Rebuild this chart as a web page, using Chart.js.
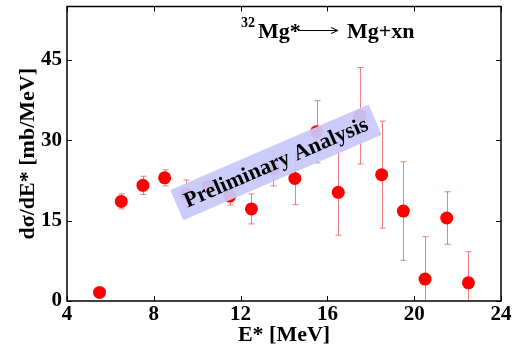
<!DOCTYPE html>
<html>
<head>
<meta charset="utf-8">
<script src="https://cdn.jsdelivr.net/npm/chart.js@4.4.1/dist/chart.umd.min.js"></script>
<style>
  html, body { margin: 0; padding: 0; background: #fff; }
  #wrap { width: 526px; height: 349px; position: relative; }
</style>
</head>
<body>
<div id="wrap"><canvas id="chart"></canvas></div>
<script>
// excitation energy E* [MeV]
var energy = [5.5, 6.5, 7.5, 8.5, 9.5, 10.5, 11.5, 12.5, 13.5, 14.5, 15.5, 16.5, 17.5, 18.5, 19.5, 20.5, 21.5, 22.5];
// dsigma/dE* [mb/MeV]
var xsec   = [1.6, 18.6, 21.6, 23.0, 20.0, 21.4, 19.6, 17.2, 24.7, 22.9, 31.6, 20.3, 34.6, 23.6, 16.8, 4.1, 15.5, 3.4];
var errs   = [0.0, 1.4, 1.7, 1.5, 2.6, 1.0, 1.7, 2.8, 3.2, 4.9, 5.8, 8.0, 9.0, 10.0, 9.2, 7.9, 4.9, 5.8];
var xTicks = [4, 8, 12, 16, 20, 24];
var yTicks = [0, 15, 30, 45];

var SERIF = '"Liberation Serif", "DejaVu Serif", serif';

var points = energy.map(function (e, i) { return { x: e, y: xsec[i] }; });

// error bars, drawn under the points
var errorBars = {
	id: 'errorBars',
	beforeDatasetsDraw: function (chart) {
		var ctx = chart.ctx, xs = chart.scales.x, ys = chart.scales.y;
		var area = chart.chartArea;
		ctx.save();
		ctx.beginPath();
		ctx.rect(area.left, area.top, area.right - area.left, area.bottom - area.top);
		ctx.clip();
		ctx.strokeStyle = 'rgba(240,110,110,0.9)';
		ctx.lineWidth = 1;
		for (var i = 0; i < energy.length; i++) {
			if (!errs[i]) continue;
			var px = Math.round(xs.getPixelForValue(energy[i])) + 0.5;
			var y1 = ys.getPixelForValue(xsec[i] + errs[i]);
			var y2 = ys.getPixelForValue(xsec[i] - errs[i]);
			ctx.beginPath();
			ctx.moveTo(px, y1); ctx.lineTo(px, y2);
			ctx.moveTo(px - 3, y1); ctx.lineTo(px + 3, y1);
			ctx.moveTo(px - 3, y2); ctx.lineTo(px + 3, y2);
			ctx.stroke();
		}
		ctx.restore();
	}
};

// frame with inward ticks on all four sides
var frame = {
	id: 'frame',
	afterDraw: function (chart) {
		var ctx = chart.ctx, a = chart.chartArea, xs = chart.scales.x, ys = chart.scales.y;
		ctx.save();
		ctx.strokeStyle = '#000';
		ctx.lineWidth = 1.5;
		ctx.strokeRect(a.left, a.top, a.right - a.left, a.bottom - a.top);
		ctx.lineWidth = 1;
		ctx.beginPath();
		xTicks.forEach(function (t) {
			var px = Math.round(xs.getPixelForValue(t)) + 0.5;
			ctx.moveTo(px, a.bottom); ctx.lineTo(px, a.bottom - 5);
			ctx.moveTo(px, a.top); ctx.lineTo(px, a.top + 5);
		});
		yTicks.forEach(function (t) {
			var py = Math.round(ys.getPixelForValue(t)) + 0.5;
			ctx.moveTo(a.left, py); ctx.lineTo(a.left + 5, py);
			ctx.moveTo(a.right, py); ctx.lineTo(a.right - 5, py);
		});
		ctx.stroke();
		ctx.restore();
	}
};

// reaction label and the "Preliminary Analysis" banner
var notes = {
	id: 'notes',
	afterDatasetsDraw: function (chart) {
		var ctx = chart.ctx, xs = chart.scales.x, ys = chart.scales.y;
		ctx.save();

		// banner
		var cx = xs.getPixelForValue(13.63), cy = ys.getPixelForValue(25.9);
		ctx.translate(cx, cy);
		ctx.rotate(-23.3 * Math.PI / 180);
		ctx.fillStyle = 'rgba(200,200,250,0.93)';
		ctx.fillRect(-108, -16.5, 216, 33);
		ctx.fillStyle = '#000';
		ctx.font = 'bold 22px ' + SERIF;
		ctx.textAlign = 'center';
		ctx.textBaseline = 'middle';
		ctx.fillText('Preliminary Analysis', 0, 1);
		ctx.setTransform(1, 0, 0, 1, 0, 0);

		// reaction
		ctx.textAlign = 'left';
		ctx.textBaseline = 'alphabetic';
		ctx.font = 'bold 14px ' + SERIF;
		ctx.fillText('32', 241, 27);
		ctx.font = 'bold 22px ' + SERIF;
		ctx.fillText('Mg*', 258, 38);
		ctx.fillText('Mg+xn', 347, 38);
		ctx.strokeStyle = '#000';
		ctx.lineWidth = 1;
		ctx.beginPath();
		ctx.moveTo(298, 30.5); ctx.lineTo(338, 30.5);
		ctx.moveTo(331, 27.5); ctx.lineTo(338, 30.5); ctx.lineTo(331, 33.5);
		ctx.stroke();
		ctx.restore();
	}
};

var ctx = document.getElementById('chart').getContext('2d');
var chart = new Chart(ctx, {
	type: 'scatter',
	data: {
		datasets: [{
			data: points,
			backgroundColor: '#ff0000',
			borderWidth: 0,
			pointRadius: 6.5,
			pointHoverRadius: 6.5,
			showLine: false
		}]
	},
	options: {
		responsive: true,
		maintainAspectRatio: false,
		animation: false,
		events: [],
		layout: { padding: { top: 3, right: 25, left: 0, bottom: 0 } },
		plugins: { legend: { display: false }, tooltip: { enabled: false } },
		scales: {
			x: {
				type: 'linear',
				min: 4, max: 24,
				afterBuildTicks: function (s) { s.ticks = xTicks.map(function (v) { return { value: v }; }); },
				afterFit: function (s) { s.height = 48; s.paddingLeft = 0; s.paddingRight = 0; },
				grid: { display: false, drawTicks: false },
				border: { display: false },
				ticks: { color: '#000', padding: 1, maxRotation: 0, font: { family: SERIF, size: 21, weight: 'bold' } },
				title: { display: true, text: 'E* [MeV]', color: '#000', padding: { top: 0, bottom: 0 }, font: { family: SERIF, size: 22, weight: 'bold' } }
			},
			y: {
				type: 'linear',
				min: 0, max: 55,
				afterBuildTicks: function (s) { s.ticks = yTicks.map(function (v) { return { value: v }; }); },
				afterFit: function (s) { s.width = 67; s.paddingTop = 0; s.paddingBottom = 0; },
				grid: { display: false, drawTicks: false },
				border: { display: false },
				ticks: { color: '#000', padding: 5, font: { family: SERIF, size: 21, weight: 'bold' } },
				title: { display: true, text: 'dσ/dE* [mb/MeV]', color: '#000', padding: { top: 15, bottom: 0 }, font: { family: SERIF, size: 22, weight: 'bold' } }
			}
		}
	},
	plugins: [errorBars, notes, frame]
});
</script>
</body>
</html>
